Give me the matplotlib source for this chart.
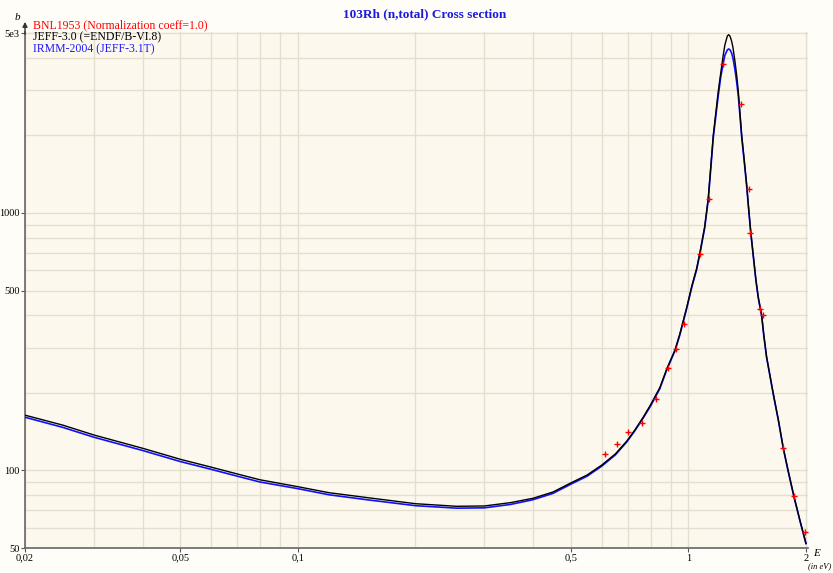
import numpy as np
import matplotlib
matplotlib.use("Agg")
import matplotlib.pyplot as plt
from matplotlib.ticker import FixedLocator, LogLocator, NullFormatter

# JEFF-3.0 (black) total cross section (E in eV, sigma in b)
jeff_e = [0.02, 0.025, 0.03, 0.04, 0.05, 0.06, 0.07, 0.08, 0.1, 0.12, 0.15,
          0.2, 0.255, 0.3, 0.35, 0.4, 0.45, 0.5, 0.55, 0.6, 0.65, 0.695,
          0.73, 0.766, 0.8, 0.845, 0.88, 0.924, 0.95, 0.99, 1.02, 1.05,
          1.071, 1.1, 1.124, 1.158, 1.192, 1.21, 1.228, 1.24, 1.258, 1.268,
          1.278, 1.29, 1.30, 1.316, 1.33, 1.342, 1.355, 1.369, 1.39, 1.41,
          1.425, 1.444, 1.465, 1.489, 1.51, 1.54, 1.56, 1.585, 1.61, 1.649,
          1.70, 1.75, 1.80, 1.864, 1.93, 2.0]
jeff_s = [164, 150, 137.4, 122, 110.5, 103, 96.9, 92, 86.5, 82, 78.5,
          74.3, 72.6, 72.8, 75, 78, 82.5, 89.5, 96, 105, 116, 130,
          144, 161, 180, 210, 248, 294, 338, 430, 520, 610,
          707, 880, 1140, 2009, 2958, 3500, 4108, 4500, 4870, 4925,
          4860, 4650, 4400, 3870, 3400, 2958, 2450, 2009, 1600, 1284,
          1060, 846, 690, 549, 470, 401, 335, 277, 243, 199,
          157, 122, 100, 79.1, 64, 52.1]

# IRMM-2004 (blue)
irmm_e = jeff_e
irmm_s = [161, 147, 134.7, 119.6, 108.3, 101, 95, 90.2, 85, 80.5, 77,
          73, 71.4, 71.6, 73.8, 77, 81.5, 88.5, 95, 104, 115, 129,
          143, 160, 178, 208, 246, 292, 335, 426, 515, 604,
          700, 870, 1125, 1970, 2850, 3380, 3820, 4100, 4300, 4335,
          4300, 4180, 4000, 3600, 3200, 2850, 2400, 1970, 1580, 1270,
          1050, 840, 685, 546, 467, 399, 333, 276, 242, 198,
          156, 121.5, 99.5, 78.8, 63.8, 52]

# BNL1953 experimental points
bnl_e = [0.611, 0.655, 0.702, 0.759, 0.824, 0.888, 0.928, 0.976, 1.073,
         1.126, 1.228, 1.363, 1.429, 1.437, 1.525, 1.555, 1.75, 1.864, 1.99]
bnl_s = [115.6, 126.7, 141, 152.5, 189, 249, 295.6, 369, 690,
         1136, 3790, 2657, 1236, 836, 422.6, 401, 122, 79.6, 57.8]

x_ticks = [0.02, 0.05, 0.1, 0.5, 1, 2]
x_labels = ["0,02", "0,05", "0,1", "0,5", "1", "2"]
y_ticks = [50, 100, 500, 1000, 5000]
y_labels = ["50", "100", "500", "1000", "5e3"]

serif = "Liberation Serif"

fig = plt.figure(figsize=(8.33, 5.73), dpi=100, facecolor="#fefdf8")
ax = fig.add_axes([25 / 833, 25 / 573, 783 / 833, 516 / 573])
ax.set_facecolor("#fcf8ee")
ax.set_xscale("log")
ax.set_yscale("log")
ax.set_xlim(0.02, 2.024)
ax.set_ylim(50, 5045)

ax.xaxis.set_major_locator(FixedLocator(x_ticks))
ax.xaxis.set_minor_locator(LogLocator(base=10, subs=np.arange(1, 10)))
ax.xaxis.set_minor_formatter(NullFormatter())
ax.set_xticklabels(x_labels)
ax.yaxis.set_major_locator(FixedLocator(y_ticks))
ax.yaxis.set_minor_locator(LogLocator(base=10, subs=np.arange(1, 10)))
ax.yaxis.set_minor_formatter(NullFormatter())
ax.set_yticklabels(y_labels)

ax.grid(True, which="both", color="#e3dfcf", linewidth=1.0)
ax.set_axisbelow(True)
ax.tick_params(which="minor", length=0)
ax.tick_params(which="major", length=3, width=0.8, color="#555555", pad=1,
               labelsize=7.5)
for lab in ax.get_xticklabels() + ax.get_yticklabels():
    lab.set_family(serif)

for s in ["top", "right"]:
    ax.spines[s].set_visible(False)
for s in ["left", "bottom"]:
    ax.spines[s].set_color("#666666")
    ax.spines[s].set_linewidth(1.2)

ax.plot(irmm_e, irmm_s, color="#1010ff", lw=1.2, zorder=3)
ax.plot(jeff_e, jeff_s, color="black", lw=1.0, zorder=4)
ax.plot(bnl_e, bnl_s, "+", color="red", ms=5, mew=1.0, zorder=5)

# y axis arrow and axis names
ax.annotate("", xy=(0, 1.025), xytext=(0, 0.99), xycoords="axes fraction",
            arrowprops=dict(arrowstyle="-|>", color="#333333", lw=1.0,
                            mutation_scale=7), annotation_clip=False)
fig.text(15 / 833, 1 - 18 / 573, "b", fontsize=8, style="italic",
         family=serif, ha="left", va="center")
fig.text(813 / 833, 1 - 553 / 573, "E", fontsize=8, style="italic",
         family=serif, ha="left", va="center")
fig.text(808 / 833, 1 - 566 / 573, "(in eV)", fontsize=6, style="italic",
         family=serif, ha="left", va="center")

fig.text(425 / 833, 1 - 14 / 573, "103Rh (n,total) Cross section", color="#1a1adc",
         fontsize=9.5, fontweight="bold", family=serif, ha="center", va="center")

fig.text(33 / 833, 1 - 25 / 573, "BNL1953 (Normalization coeff=1.0)", color="red",
         fontsize=8.5, family=serif, ha="left", va="center")
fig.text(33 / 833, 1 - 37 / 573, "JEFF-3.0 (=ENDF/B-VI.8)", color="black",
         fontsize=8.5, family=serif, ha="left", va="center")
fig.text(33 / 833, 1 - 49 / 573, "IRMM-2004 (JEFF-3.1T)", color="#1a1aff",
         fontsize=8.5, family=serif, ha="left", va="center")

fig.savefig("out.png", dpi=100, facecolor=fig.get_facecolor())
